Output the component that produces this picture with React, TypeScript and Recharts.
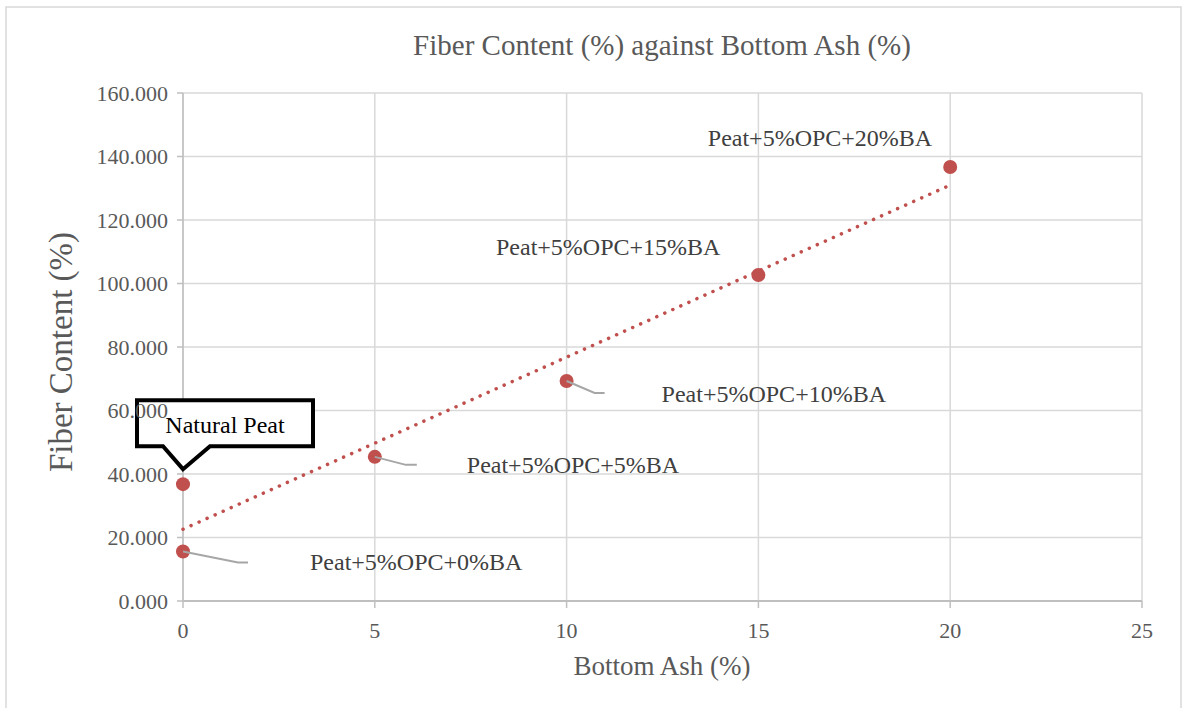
import { ScatterChart, Scatter, XAxis, YAxis, CartesianGrid } from "recharts";

const bottomAsh = [0, 0, 5, 10, 15, 20];
const fiberContent = [36.8, 15.6, 45.4, 69.3, 102.7, 136.7];
const pointNames = [
  "Natural Peat",
  "Peat+5%OPC+0%BA",
  "Peat+5%OPC+5%BA",
  "Peat+5%OPC+10%BA",
  "Peat+5%OPC+15%BA",
  "Peat+5%OPC+20%BA",
];
// linear trendline end points
const trendX = [0, 20];
const trendY = [22.6, 131.0];
const xTicks = [0, 5, 10, 15, 20, 25];
const yTicks = [0, 20, 40, 60, 80, 100, 120, 140, 160];

const points = bottomAsh.map((x, i) => ({ x, y: fiberContent[i], name: pointNames[i] }));
const trend = trendX.map((x, i) => ({ x, y: trendY[i] }));

const RED = "#c0504d";
const GREY_TEXT = "#595959";
const FONT = '"Liberation Serif", "Times New Roman", serif';

// where each data label sits relative to its marker
type Placement = { dx: number; dy: number; anchor: "start" | "end"; leader?: number[][] };
const placements: Record<string, Placement> = {
  "Peat+5%OPC+0%BA": { dx: 127, dy: 19, anchor: "start", leader: [[0, 0], [55, 11], [65, 11]] },
  "Peat+5%OPC+5%BA": { dx: 92, dy: 16, anchor: "start", leader: [[0, 0], [31, 8], [42, 8]] },
  "Peat+5%OPC+10%BA": { dx: 95, dy: 21, anchor: "start", leader: [[0, 0], [28, 12], [38, 12]] },
  "Peat+5%OPC+15%BA": { dx: -38, dy: -20, anchor: "end" },
  "Peat+5%OPC+20%BA": { dx: -18, dy: -21, anchor: "end" },
};

function Marker(props: any) {
  const { cx, cy, payload } = props;
  const name: string = payload?.name ?? "";
  if (name === "Natural Peat") {
    const l = cx - 46, r = cx + 130, t = cy - 84, b = cy - 38;
    const d = `M${l},${t} H${r} V${b} H${cx + 27} L${cx},${cy - 15} L${cx - 20},${b} H${l} Z`;
    return (
      <g>
        <circle cx={cx} cy={cy} r={7} fill={RED} />
        <path d={d} fill="#fff" stroke="#000" strokeWidth={4} strokeLinejoin="miter" />
        <text x={cx + 42} y={cy - 51} textAnchor="middle" fontSize={24} fill="#000" fontFamily={FONT}>
          {name}
        </text>
      </g>
    );
  }
  const p = placements[name];
  return (
    <g>
      <circle cx={cx} cy={cy} r={7} fill={RED} />
      {p?.leader && (
        <polyline
          points={p.leader.map(([a, c]) => `${cx + a},${cy + c}`).join(" ")}
          fill="none"
          stroke="#a6a6a6"
          strokeWidth={2}
        />
      )}
      {p && (
        <text x={cx + p.dx} y={cy + p.dy} textAnchor={p.anchor} fontSize={24} fill="#404040" fontFamily={FONT}>
          {name}
        </text>
      )}
    </g>
  );
}

export default function App() {
  return (
    <div style={{ position: "absolute", left: 0, top: 0, width: 1185, height: 708, fontFamily: FONT, background: "#fff" }}>
      <svg width={1185} height={708} style={{ position: "absolute", left: 0, top: 0 }}>
        <rect x={6} y={7} width={1175} height={720} fill="none" stroke="#d9d9d9" strokeWidth={1.5} />
        <text x={662} y={55} textAnchor="middle" fontSize={29} fill={GREY_TEXT} fontFamily={FONT}>
          Fiber Content (%) against Bottom Ash (%)
        </text>
        <text x={662} y={675} textAnchor="middle" fontSize={27} fill={GREY_TEXT} fontFamily={FONT}>
          Bottom Ash (%)
        </text>
        <text
          x={72}
          y={352}
          textAnchor="middle"
          fontSize={33}
          fill={GREY_TEXT}
          fontFamily={FONT}
          transform="rotate(-90 72 352)"
        >
          Fiber Content (%)
        </text>
      </svg>
      <div style={{ position: "absolute", left: 0, top: 0 }}>
        <ScatterChart width={1185} height={708} margin={{ top: 93, right: 43, bottom: 57, left: 0 }}>
          <CartesianGrid stroke="#d9d9d9" strokeWidth={1.5} />
          <XAxis
            type="number"
            dataKey="x"
            domain={[0, 25]}
            ticks={xTicks}
            interval={0}
            height={50}
            tickSize={7}
            tickMargin={14}
            axisLine={{ stroke: "#bfbfbf", strokeWidth: 2 }}
            tickLine={{ stroke: "#bfbfbf", strokeWidth: 1.5 }}
            tick={{ fill: GREY_TEXT, fontSize: 22, fontFamily: FONT }}
          />
          <YAxis
            type="number"
            dataKey="y"
            domain={[0, 160]}
            ticks={yTicks}
            interval={0}
            width={183}
            tickSize={6}
            tickMargin={9}
            tickFormatter={(v: number) => v.toFixed(3)}
            axisLine={{ stroke: "#bfbfbf", strokeWidth: 1.5 }}
            tickLine={{ stroke: "#bfbfbf", strokeWidth: 1.5 }}
            tick={{ fill: GREY_TEXT, fontSize: 22, fontFamily: FONT }}
          />
          <Scatter
            data={trend}
            isAnimationActive={false}
            line={{ stroke: RED, strokeWidth: 3.5, strokeDasharray: "0.1 8.7", strokeLinecap: "round" }}
            shape={() => <g />}
            legendType="none"
          />
          <Scatter data={points} isAnimationActive={false} shape={Marker} />
        </ScatterChart>
      </div>
    </div>
  );
}
